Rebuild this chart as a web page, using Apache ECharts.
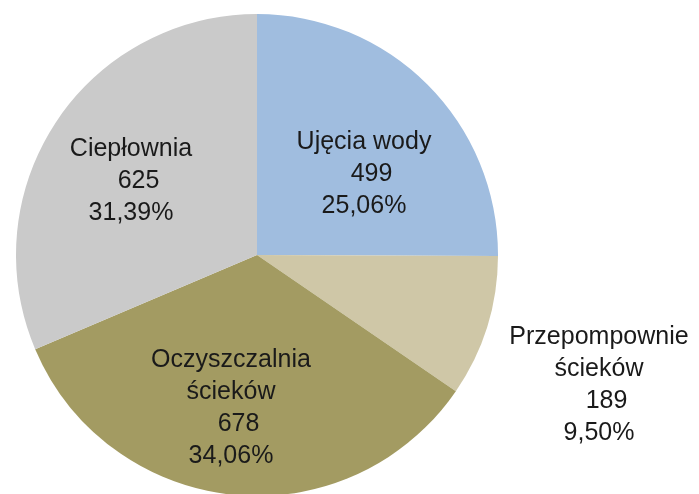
<!DOCTYPE html>
<html>
<head>
<meta charset="utf-8">
<script src="https://cdn.jsdelivr.net/npm/echarts@6/dist/echarts.min.js"></script>
<style>
  html, body { margin: 0; padding: 0; background: #fff; }
  #chart { width: 699px; height: 494px; }
</style>
</head>
<body>
<div id="chart"></div>
<script>
// data
const names = ["Ujęcia wody", "Przepompownie\nścieków", "Oczyszczalnia\nścieków", "Ciepłownia"];
const values = [499, 189, 678, 625];
const percents = ["25,06%", "9,50%", "34,06%", "31,39%"];

const colorList = ["#a0bddf", "#cfc7a7", "#a39b62", "#cacaca"];
// where each label block sits (centre of the text block)
const labelPos = [[364, 174], [599, 385], [231, 408], [131, 181]];

let chart = echarts.init(document.getElementById("chart"));
chart.setOption({
  animation: false,
  color: colorList,
  series: [
    {
      type: "pie",
      center: [257, 255],
      radius: 241,
      startAngle: 90,
      clockwise: true,
      avoidLabelOverlap: false,
      itemStyle: { borderWidth: 0 },
      label: {
        show: true,
        position: "inside",
        color: "#1a1a1a",
        fontFamily: "Liberation Sans",
        fontSize: 25,
        lineHeight: 32,
        align: "center",
        formatter: function (p) {
          let lines = p.name.split("\n").map((s) => "{t|" + s + "}");
          lines.push("{v|" + p.value + "}");
          lines.push("{t|" + percents[p.dataIndex] + "}");
          return lines.join("\n");
        },
        rich: {
          t: { fontSize: 25, lineHeight: 32, color: "#1a1a1a", fontFamily: "Liberation Sans" },
          v: { fontSize: 25, lineHeight: 32, color: "#1a1a1a", fontFamily: "Liberation Sans", padding: [0, 0, 0, 15] },
        },
      },
      labelLine: { show: false },
      labelLayout: function (params) {
        let pos = labelPos[params.dataIndex];
        return {
          x: pos[0],
          y: pos[1],
          align: "center",
          verticalAlign: "middle",
        };
      },
      emphasis: { disabled: true },
      data: names.map((n, i) => ({ name: n, value: values[i] })),
    },
  ],
});
</script>
</body>
</html>
